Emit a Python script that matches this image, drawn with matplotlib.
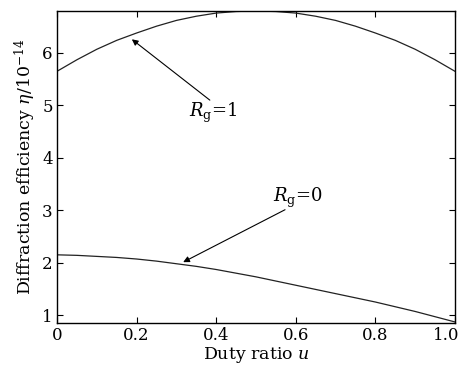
import matplotlib
matplotlib.use("Agg")
import matplotlib.pyplot as plt
import matplotlib.transforms as mtransforms

plt.rcParams['font.family'] = ['DejaVu Serif']
plt.rcParams['mathtext.fontset'] = 'dejavuserif'

# Data
duty = [0.0, 0.05, 0.1, 0.15, 0.2, 0.25, 0.3, 0.35, 0.4, 0.45, 0.5,
        0.55, 0.6, 0.65, 0.7, 0.75, 0.8, 0.85, 0.9, 0.95, 1.0]
eta_rg1 = [5.65, 5.87, 6.07, 6.24, 6.38, 6.51, 6.62, 6.70, 6.76, 6.79, 6.80,
           6.79, 6.76, 6.70, 6.62, 6.51, 6.38, 6.24, 6.07, 5.87, 5.65]
eta_rg0 = [2.15, 2.14, 2.12, 2.10, 2.07, 2.03, 1.98, 1.93, 1.87, 1.80, 1.73,
           1.65, 1.57, 1.49, 1.41, 1.33, 1.25, 1.16, 1.07, 0.97, 0.87]
xticks = [0, 0.2, 0.4, 0.6, 0.8, 1.0]
xticklabels = ["0", "0.2", "0.4", "0.6", "0.8", "1.0"]
yticks = [1, 2, 3, 4, 5, 6]

fig = plt.figure(figsize=(4.6, 3.66), dpi=100)
ax = fig.add_axes([0.124, 0.1175, 0.865, 0.8525])

ax.plot(duty, eta_rg1, color="#222222", lw=0.9)
ax.plot(duty, eta_rg0, color="#222222", lw=0.9)

# annotations
ax.annotate("", xy=(0.188, 6.26), xytext=(0.384, 5.10),
            arrowprops=dict(arrowstyle="-|>", lw=0.8, color="black",
                            mutation_scale=9, shrinkA=0, shrinkB=0))
ax.text(0.392, 4.85, r"$R_{\rm g}$=1", ha="center", va="center", fontsize=13)
ax.annotate("", xy=(0.317, 2.01), xytext=(0.573, 3.01),
            arrowprops=dict(arrowstyle="-|>", lw=0.8, color="black",
                            mutation_scale=9, shrinkA=0, shrinkB=0))
ax.text(0.606, 3.23, r"$R_{\rm g}$=0", ha="center", va="center", fontsize=13)

ax.set_xlim(0, 1.0)
ax.set_ylim(0.85, 6.8)
ax.set_xticks(xticks)
ax.set_xticklabels(xticklabels)
ax.set_yticks(yticks)
ax.tick_params(direction="in", top=True, right=True, length=4, width=0.8,
               labelsize=12, pad=3)
for s in ax.spines.values():
    s.set_linewidth(1.0)

# keep the last x label inside the picture
last = ax.get_xticklabels()[-1]
last.set_transform(last.get_transform() +
                   mtransforms.ScaledTranslation(-9 / 100, 0, fig.dpi_scale_trans))

ax.set_xlabel(r"Duty ratio $u$", fontsize=12.5, labelpad=0.5)
ax.set_ylabel(r"Diffraction efficiency $\eta$/10$^{-14}$", fontsize=12.5, labelpad=3)

fig.savefig("out.png", dpi=100)
plt.close(fig)
